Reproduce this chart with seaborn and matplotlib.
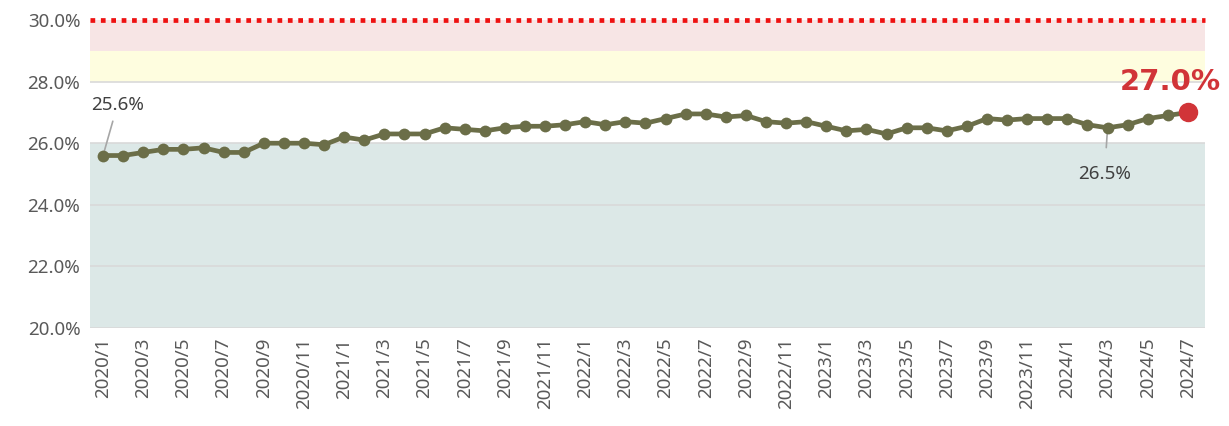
import matplotlib
matplotlib.use("Agg")
import matplotlib.pyplot as plt
import seaborn as sns
import pandas as pd

months = [f"{y}/{m}" for y in range(2020, 2025) for m in range(1, 13)][:55]
rates = [
    25.6, 25.6, 25.7, 25.8, 25.8, 25.85, 25.7, 25.7, 26.0, 26.0, 26.0, 25.95,
    26.2, 26.1, 26.3, 26.3, 26.3, 26.5, 26.45, 26.4, 26.5, 26.55, 26.55, 26.6,
    26.7, 26.6, 26.7, 26.65, 26.8, 26.95, 26.95, 26.85, 26.9, 26.7, 26.65, 26.7,
    26.55, 26.4, 26.45, 26.3, 26.5, 26.5, 26.4, 26.55, 26.8, 26.75, 26.8, 26.8,
    26.8, 26.6, 26.5, 26.6, 26.8, 26.9, 27.0,
]
tick_labels = months[::2]

df = pd.DataFrame({"idx": range(len(months)), "month": months, "rate": rates})

sns.set_theme(style="white")
plt.rcParams["font.family"] = ["Noto Sans", "DejaVu Sans"]

fig = plt.figure(figsize=(12.29, 4.26), dpi=100)
ax = fig.add_axes([90 / 1229, 1 - 328 / 426, (1205 - 90) / 1229, (328 - 20) / 426])

# threshold bands
ax.axhspan(20, 26, color="#dce8e7", zorder=0, lw=0)
ax.axhspan(28, 29, color="#fefddf", zorder=0, lw=0)
ax.axhspan(29, 30, color="#f7e5e5", zorder=0, lw=0)
for g in (20, 22, 24, 26, 28):
    ax.axhline(g, color="#d9d9d9", lw=1.2, zorder=1)
ax.axhline(30, color="#ee1111", lw=3.4, ls=(0, (1, 1.2)), zorder=3, clip_on=False)

sns.lineplot(data=df, x="idx", y="rate", ax=ax, color="#6b6e48", lw=3.4,
             marker="o", markersize=8.5, markeredgewidth=0, zorder=4)

last = len(rates) - 1
ax.plot(last, rates[last], "o", color="#d13438", markersize=13, zorder=5, clip_on=False)
ax.annotate(f"{rates[last]:.1f}%", (last, rates[last]), xytext=(-13, 12),
            textcoords="offset points", ha="center", va="bottom",
            fontsize=21, fontweight="bold", color="#d13438",
            family=["DejaVu Sans"])

# first-value callout
ax.annotate(f"{rates[0]:.1f}%", (0, rates[0]), xytext=(-0.6, 26.95),
            textcoords="data", ha="left", va="bottom", fontsize=13.5, color="#404040",
            arrowprops=dict(arrowstyle="-", color="#a6a6a6", lw=1.2,
                            shrinkA=3, shrinkB=3))
# low-point callout
i_low = 50
ax.annotate(f"{rates[i_low]:.1f}%", (i_low, rates[i_low]), xytext=(i_low - 0.15, 25.3),
            textcoords="data", ha="center", va="top", fontsize=13.5, color="#404040",
            arrowprops=dict(arrowstyle="-", color="#a6a6a6", lw=1.2,
                            shrinkA=10, shrinkB=3))

ax.set_xlim(-0.65, last + 0.85)
ax.set_ylim(20, 30)
ax.set_yticks([20, 22, 24, 26, 28, 30])
ax.set_yticklabels([f"{v:.1f}%" for v in [20, 22, 24, 26, 28, 30]], fontsize=13.5, color="#595959")
ax.set_xticks(range(0, len(months), 2))
ax.set_xticklabels(tick_labels, rotation=90, fontsize=13.5, color="#595959")
ax.tick_params(axis="both", length=0, pad=7)
ax.set_xlabel("")
ax.set_ylabel("")
for s in ax.spines.values():
    s.set_visible(False)

fig.savefig("out.png", dpi=100)
